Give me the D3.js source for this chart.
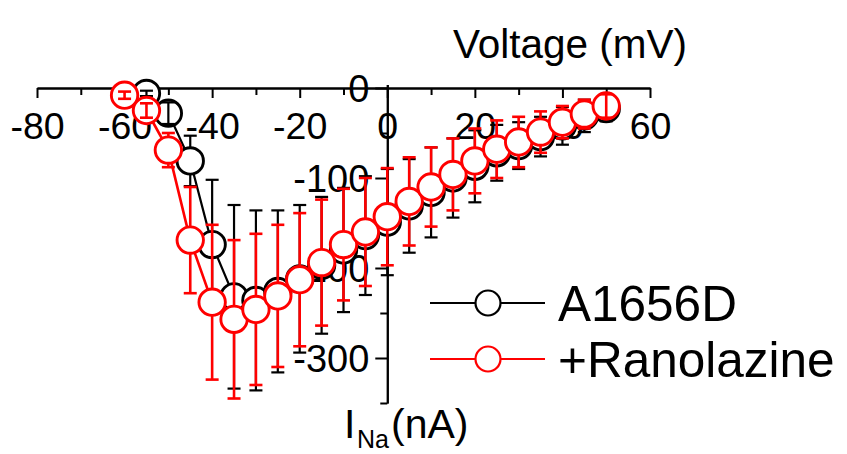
<!DOCTYPE html>
<html>
<head>
<meta charset="utf-8">
<script src="https://cdn.jsdelivr.net/npm/d3@7"></script>
<style>
  html, body { margin: 0; padding: 0; background: #fff; }
  svg { display: block; font-family: "Liberation Sans", Arial, Helvetica, sans-serif; }
</style>
</head>
<body>
<svg id="chart" width="847" height="454"></svg>
<script>
// I-V relation: peak sodium current vs. test voltage (mean ± SEM)
const voltageRano = [-60, -55, -50, -45, -40, -35, -30, -25, -20, -15, -10, -5, 0, 5, 10, 15, 20, 25, 30, 35, 40, 45, 50];
const currentRano = [-8, -25, -69, -169, -238, -257, -246, -231, -213, -194, -174, -160, -143, -126, -110, -96, -81, -68, -60, -49, -38, -29, -20];
const errorRano   = [4, 8, 19, 59, 86, 88, 84, 79, 74, 70, 62, 60, 54, 49, 44, 40, 36, 32, 28, 23, 18, 16, 13];

const voltageMut = [-55, -50, -45, -40, -35, -30, -25, -20, -15, -10, -5, 0, 5, 10, 15, 20, 25, 30, 35, 40, 45, 50];
const currentMut = [-6, -28, -81, -174, -232, -236, -226, -212, -197, -180, -164, -149, -131, -116, -100, -87, -72, -64, -54, -42, -31, -23];
const errorMut   = [3, 12, 28, 72, 102, 100, 90, 82, 76, 69, 66, 59, 52, 50, 44, 40, 31, 26, 22, 21, 18, 14];

const xMajorTicks = [-80, -60, -40, -20, 0, 20, 40, 60];
const xMinorTicks = [-70, -50, -30, -10, 10, 30, 50];
const yMajorTicks = [0, -100, -200, -300];
const yMinorTicks = [-50, -150, -250, -350];

const seriesNames  = ["A1656D", "+Ranolazine"];
const seriesColors = ["#000000", "#ff0000"];

const svg = d3.select("#chart");

const x = d3.scaleLinear().domain([-80, 60]).range([37, 650]);
const y = d3.scaleLinear().domain([4, -350]).range([84.4, 403]);

const tickFont = 37.5;
const R = 13.2;
const plainNumber = d => String(d);   // ASCII hyphen for negatives

// ---- axes (crossing at the origin) ----
const axes = svg.append("g").attr("class", "axes");

axes.append("g").attr("transform", `translate(0,${y(0)})`)
  .call(d3.axisBottom(x).tickValues(xMinorTicks).tickSize(7).tickSizeOuter(0).tickFormat(""));
const xMajG = axes.append("g").attr("transform", `translate(0,${y(0)})`)
  .call(d3.axisBottom(x).tickValues(xMajorTicks).tickSize(10).tickSizeOuter(0).tickPadding(14).tickFormat(plainNumber));
xMajG.selectAll("text").attr("font-size", tickFont).attr("fill", "#000")
  .attr("font-family", "Liberation Sans, Arial, sans-serif").attr("dy", "0.71em");

axes.append("g").attr("transform", `translate(${x(0)},0)`)
  .call(d3.axisLeft(y).tickValues(yMinorTicks).tickSize(7).tickSizeOuter(0).tickFormat(""));
const yMajG = axes.append("g").attr("transform", `translate(${x(0)},0)`)
  .call(d3.axisLeft(y).tickValues(yMajorTicks).tickSize(12).tickSizeOuter(0).tickPadding(6).tickFormat(plainNumber));
yMajG.selectAll("text").attr("font-size", tickFont + 0.5).attr("fill", "#000")
  .attr("font-family", "Liberation Sans, Arial, sans-serif").attr("dy", "0.36em");

axes.selectAll(".domain").attr("stroke", "#000").attr("stroke-width", 2);
axes.selectAll(".tick line").attr("stroke", "#000").attr("stroke-width", 2);
// keep the y domain line running through the x labels
yMajG.select(".domain").raise();

// axis titles
svg.append("text")
  .attr("x", 570).attr("y", 58)
  .attr("text-anchor", "middle")
  .attr("font-size", 40.5)
  .text("Voltage (mV)");

const yTitle = svg.append("text").attr("font-size", 41).attr("y", 438);
yTitle.append("tspan").attr("x", 344).text("I");
yTitle.append("tspan").attr("x", 357).attr("y", 448).attr("font-size", 25).text("Na");
yTitle.append("tspan").attr("x", 391).attr("y", 438).text("(nA)");

// ---- data series ----
function drawSeries(volts, amps, errs, color, lw) {
  const g = svg.append("g");
  const pts = volts.map((v, i) => ({ v, a: amps[i], e: errs[i] }));

  g.append("path")
    .datum(pts)
    .attr("fill", "none")
    .attr("stroke", color)
    .attr("stroke-width", lw)
    .attr("d", d3.line().x(d => x(d.v)).y(d => y(d.a)));

  g.selectAll("circle").data(pts).join("circle")
    .attr("cx", d => x(d.v)).attr("cy", d => y(d.a)).attr("r", R)
    .attr("fill", "#fff").attr("stroke", color).attr("stroke-width", 2.9);

  // error bars start at the symbol edge; short ones sit inside the symbol
  const eb = g.append("g").attr("stroke", color).attr("stroke-width", lw).attr("fill", "none");
  pts.forEach(d => {
    const cx = x(d.v), cy = y(d.a);
    const up = y(d.a + d.e), lo = y(d.a - d.e);
    const half = lo - cy;
    if (half > R) {
      eb.append("line").attr("x1", cx).attr("x2", cx).attr("y1", cy - R).attr("y2", up);
      eb.append("line").attr("x1", cx).attr("x2", cx).attr("y1", cy + R).attr("y2", lo);
    } else {
      eb.append("line").attr("x1", cx).attr("x2", cx).attr("y1", up).attr("y2", lo);
    }
    eb.append("line").attr("x1", cx - 6.5).attr("x2", cx + 6.5).attr("y1", up).attr("y2", up);
    eb.append("line").attr("x1", cx - 6.5).attr("x2", cx + 6.5).attr("y1", lo).attr("y2", lo);
  });
}

drawSeries(voltageMut, currentMut, errorMut, seriesColors[0], 2.2);
drawSeries(voltageRano, currentRano, errorRano, seriesColors[1], 2.6);

// ---- legend ----
const legend = svg.append("g");
const legendRows = [303, 359];
seriesNames.forEach((name, i) => {
  const ly = legendRows[i];
  legend.append("line").attr("x1", 430).attr("x2", 545).attr("y1", ly).attr("y2", ly)
    .attr("stroke", seriesColors[i]).attr("stroke-width", 2.2);
  legend.append("circle").attr("cx", 488).attr("cy", ly).attr("r", 12.5)
    .attr("fill", "#fff").attr("stroke", seriesColors[i]).attr("stroke-width", 2.2);
  legend.append("text").attr("x", 558).attr("y", ly).attr("dy", "0.36em")
    .attr("font-size", 49.5).text(name);
});
</script>
</body>
</html>
